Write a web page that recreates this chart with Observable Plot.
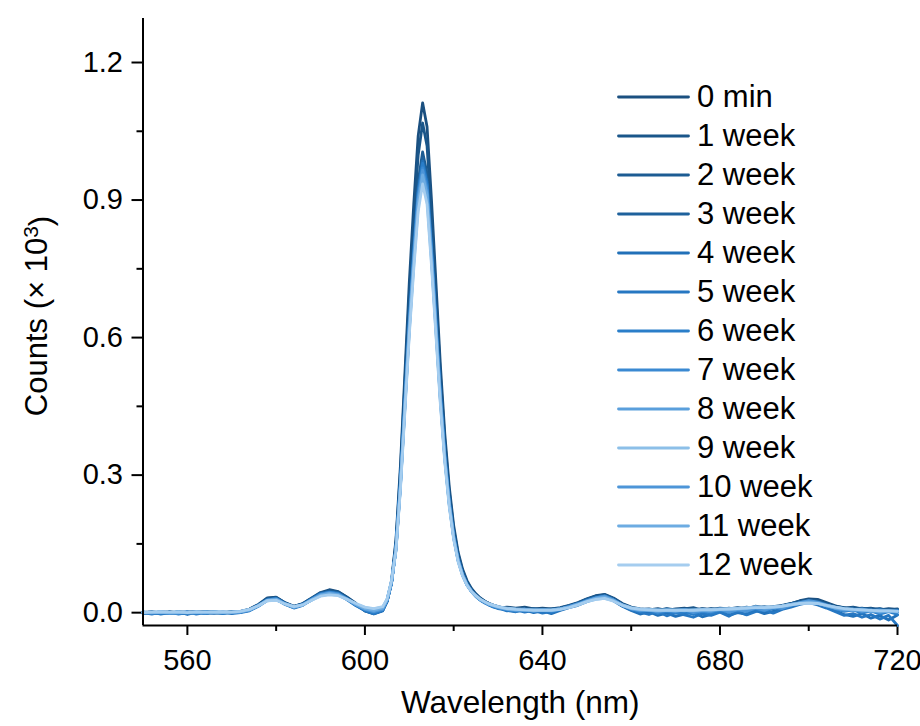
<!DOCTYPE html>
<html>
<head>
<meta charset="utf-8">
<script src="https://cdn.jsdelivr.net/npm/d3@7"></script>
<script src="https://cdn.jsdelivr.net/npm/@observablehq/plot@0.6"></script>
<style>
  html, body { margin: 0; padding: 0; background: #fff; }
  #wrap { position: relative; width: 920px; height: 726px; font-family: "Liberation Sans", Arial, sans-serif; }
  #legend { position: absolute; left: 0; top: 0; }
  .row { position: absolute; left: 617px; display: flex; align-items: center; height: 36px; }
  .row span { font-size: 31px; color: #000; margin-left: 7px; line-height: 36px; white-space: nowrap; }
</style>
</head>
<body>
<div id="wrap"><div id="chart"></div><div id="legend"></div></div>
<script>
// Wavelength grid (nm)
const wavelength = [
  550,552,554,556,558, 560,562,564,566,568, 570,572,574,576,578, 580,582,584,586,588, 590,592,594,596,598, 600,602,604,
  605,606,607,608,609, 610,611,612,613,614, 615,616,617,618,619, 620,621,622,623,624, 625,626,627,628,629, 630,631,
  632,634,636,638,640, 642,644,646,648,650, 652,654,656,658,660, 662,664,666,668,670, 672,674,676,678,680,
  682,684,686,688,690, 692,694,696,698,700, 702,704,706,708,710, 712,714,716,718,720
];

// Counts for each measurement (raw counts; axis shows ×10^3)
const s0min = [
  1,-1,2,0,-2, 1,0,3,0,-1, 2,3,8,18,32, 34,22,14,20,32, 44,50,46,34,20, 4,-2,5,
  25,70,160,320,520, 720,890,1040,1112,1060, 900,720,540,390,275, 190,132,95,70,53, 41,32,25,20,16, 13,11,
  12,10,12,8,10, 8,11,16,22,30, 37,40,32,20,12, 8,6,9,5,8, 10,6,9,7,10, 8,11,9,14,10, 12,15,20,26,30, 29,22,15,10,12, 8,10,6,9,7
];
const s1wk = [
  0,2,-1,1,0, -2,1,2,-1,0, 3,2,7,17,31, 33,21,13,19,31, 42,48,45,33,19, 5,-1,5,
  24,67,154,307,499, 691,854,998,1068,1018, 864,691,518,374,264, 182,127,91,67,51, 40,31,25,20,16, 13,10,
  9,8,7,9,6, 8,10,15,21,29, 36,39,31,19,11, 7,8,5,9,6, 8,11,5,8,6, 10,7,12,9,11, 13,16,20,25,28, 26,20,14,11,8, 10,7,9,5,8
];
const s2wk = [
  -1,0,1,-2,2, 0,-1,1,2,0, -1,3,6,16,30, 31,20,13,18,30, 41,47,44,32,18, 6,0,6,
  26,66,145,289,470, 651,805,940,1005,958, 814,651,488,353,249, 172,119,86,63,49, 38,30,24,19,15, 12,10,
  8,6,9,5,7, 6,9,14,20,28, 35,37,29,18,10, 6,4,7,3,6, 4,8,5,9,6, 8,10,7,12,9, 11,15,19,24,27, 25,19,13,9,11, 7,9,5,7,4
];
const s3wk = [
  1,-2,0,2,-1, 1,3,-2,0,1, 0,2,7,17,29, 32,21,14,19,31, 43,46,43,31,18, 8,1,7,
  25,65,143,285,464, 642,794,928,992,946, 803,642,482,348,245, 169,118,85,63,48, 38,29,23,19,15, 12,9,
  7,9,5,8,6, 7,10,15,21,29, 34,38,30,18,10, 5,7,4,8,5, 7,4,8,6,9, 7,10,8,11,13, 10,14,18,23,27, 24,18,12,10,7, 9,6,8,4,6
];
const s4wk = [
  -2,1,-3,0,2, -4,1,-2,3,-1, 0,1,5,15,28, 30,19,11,17,29, 40,44,41,29,16, 4,-3,4,
  26,66,142,284,461, 638,789,921,985,939, 797,638,478,346,244, 168,117,84,62,47, 36,28,22,17,13, 10,8,
  5,2,6,0,4, -2,5,11,16,24, 31,34,26,14,5, -3,2,-6,-1,-8, -3,1,-9,-4,2, -6,0,-4,5,-2, 3,8,14,20,24, 19,12,4,-4,-8, -2,-12,-6,-16,-5
];
const s5wk = [
  0,-3,1,-2,0, 2,-3,0,-1,2, -2,0,4,14,27, 29,18,10,16,28, 39,43,40,28,15, 5,-2,5,
  25,64,140,281,456, 631,781,912,975,930, 789,631,474,342,241, 167,116,83,61,46, 35,27,21,16,12, 9,7,
  4,6,1,5,-1, 3,6,12,18,25, 32,35,27,15,6, 1,-4,3,-7,0, -5,-10,-2,-6,1, -8,3,-5,2,6, -1,7,12,18,22, 17,10,2,-6,-2, -10,-4,-14,-6,-28
];
const s6wk = [
  1,0,-2,1,-3, 0,2,-1,0,-2, 1,2,6,16,28, 31,20,12,18,30, 41,45,42,30,17, 6,0,6,
  26,65,141,282,458, 634,784,916,980,934, 793,634,476,344,242, 167,116,84,62,47, 36,28,22,17,13, 10,8,
  6,3,7,2,5, 1,7,13,19,27, 33,36,28,16,8, 3,5,-2,4,-1, 2,-4,3,-1,5, 0,7,2,8,4, 9,12,17,22,25, 22,15,8,3,6, -1,4,-3,2,-4
];
const s7wk = [
  0,1,0,-1,1, 0,-1,1,0,1, 0,2,6,16,28, 30,19,12,17,29, 40,44,41,30,18, 8,3,8,
  27,66,140,279,453, 628,776,907,970,924, 785,628,471,340,240, 166,115,83,61,47, 36,28,23,18,15, 12,10,
  7,5,6,4,6, 5,8,13,19,26, 32,35,27,16,9, 6,4,6,3,5, 7,2,6,4,8, 5,9,7,11,8, 10,13,17,21,24, 22,16,10,7,5, 8,4,6,3,5
];
const s8wk = [
  1,0,2,0,1, -1,0,2,1,0, 1,2,6,15,27, 29,19,12,17,28, 38,42,39,29,18, 9,5,9,
  28,68,138,276,449, 621,768,898,960,915, 777,621,466,337,237, 164,114,82,61,47, 36,28,23,18,15, 12,10,
  8,6,5,6,5, 6,8,12,18,25, 31,33,27,16,9, 6,5,4,6,5, 4,6,5,5,6, 7,8,10,12,10, 11,14,18,21,22, 20,15,11,8,6, 5,3,2,3,2
];
const s9wk = [
  0,1,1,0,2, 0,1,0,2,1, 1,3,7,15,26, 28,19,13,17,27, 37,40,38,29,19, 11,8,12,
  29,70,136,272,442, 612,757,884,945,901, 765,612,459,332,234, 162,112,81,60,46, 37,29,23,19,16, 13,11,
  10,8,7,6,6, 6,8,12,17,24, 29,31,26,17,11, 8,7,6,6,6, 6,6,7,7,8, 9,10,11,12,12, 13,15,18,20,21, 20,16,12,9,7, 6,5,4,4,3
];
const s10wk = [
  0,-1,1,0,-1, 1,0,-1,1,0, 0,2,5,15,27, 29,19,12,17,28, 39,43,40,29,17, 7,2,7,
  28,67,139,278,451, 625,773,903,965,920, 781,625,469,339,239, 165,115,82,61,47, 36,28,22,18,14, 11,9,
  7,5,8,3,6, 4,7,13,19,26, 32,36,28,16,8, 4,6,1,5,2, 6,0,4,2,7, 1,6,3,10,5, 12,9,16,22,26, 23,17,9,5,8, 2,6,0,4,1
];
const s11wk = [
  1,0,1,-1,0, 1,0,1,0,0, 1,2,6,15,27, 29,19,12,17,28, 38,42,39,29,18, 9,5,10,
  29,68,137,275,447, 618,765,893,955,911, 773,618,464,335,236, 163,113,82,60,46, 36,28,23,18,15, 12,10,
  8,6,6,5,6, 5,8,12,18,25, 31,34,27,16,9, 6,5,4,5,4, 5,4,6,5,7, 6,8,9,13,10, 11,14,18,21,23, 21,15,10,7,6, 5,4,3,4,3
];
const s12wk = [
  0,1,2,1,1, 0,2,1,1,2, 1,3,7,15,26, 27,19,13,17,27, 36,39,37,29,20, 12,9,13,
  30,70,135,269,437, 606,748,875,935,891, 757,606,454,328,231, 160,111,80,60,46, 37,29,24,19,16, 13,11,
  9,7,6,5,5, 5,7,11,17,24, 29,31,25,16,10, 7,6,5,5,5, 5,5,6,6,7, 8,9,10,11,11, 12,14,17,20,21, 20,16,12,9,7, 6,5,4,4,3
];

const seriesNames = ["0 min","1 week","2 week","3 week","4 week","5 week","6 week","7 week","8 week","9 week","10 week","11 week","12 week"];
const seriesValues = [s0min,s1wk,s2wk,s3wk,s4wk,s5wk,s6wk,s7wk,s8wk,s9wk,s10wk,s11wk,s12wk];
const seriesColors = ["#1b5080","#1a568a","#1c5c93","#1e619c","#2170b8","#2677c2","#2a7ec9","#3a89d2","#5a9fdc","#8cbfe8","#4d95d8","#6dace2","#a5cdef"];

const xDomain = [550, 720];
const yDomain = [-0.028, 1.296];
const xMajor = [560, 600, 640, 680, 720];
const xMinor = [580, 620, 660, 700];
const yMajor = [0, 0.3, 0.6, 0.9, 1.2];
const yMinor = [0.15, 0.45, 0.75, 1.05];
const xTitle = "Wavelength (nm)";
const yTitleMain = "Counts (× 10";
const yTitleSup = "3";
const yTitleEnd = ")";

const table = [];
seriesNames.forEach((name, k) => {
  seriesValues[k].forEach((v, i) => table.push({wl: wavelength[i], v: v / 1000, s: name}));
});

const chart = Plot.plot({
  width: 920,
  height: 726,
  marginLeft: 142.5,
  marginRight: 23,
  marginTop: 18,
  marginBottom: 101,
  x: {domain: xDomain},
  y: {domain: yDomain},
  color: {domain: seriesNames, range: seriesColors},
  style: {fontFamily: "'Liberation Sans', Arial, sans-serif", color: "#000", background: "transparent", overflow: "visible"},
  marks: [
    Plot.axisX({ticks: xMajor, tickSize: 10, tickPadding: 14, fontSize: 29, strokeWidth: 2, label: null}),
    Plot.axisX({ticks: xMinor, tickSize: 6, tickFormat: () => "", strokeWidth: 2, label: null}),
    Plot.axisY({ticks: yMajor, tickSize: 11, tickPadding: 9, fontSize: 29, strokeWidth: 2, tickFormat: d3.format(".1f"), label: null}),
    Plot.axisY({ticks: yMinor, tickSize: 6, tickFormat: () => "", strokeWidth: 2, label: null}),
    Plot.line(table, {x: "wl", y: "v", z: "s", stroke: "s", strokeWidth: 2.8, strokeLinejoin: "round", strokeLinecap: "round"}),
    Plot.ruleX([xDomain[0]], {strokeWidth: 2, stroke: "#000"}),
    Plot.ruleY([yDomain[0]], {strokeWidth: 2, stroke: "#000"}),
    Plot.text([yTitleMain + yTitleSup + yTitleEnd], {text: d => d, frameAnchor: "left", textAnchor: "middle", dx: -106, dy: -6, rotate: -90, fontSize: 31, fill: "#000", className: "ytitle"}),
    Plot.text([xTitle], {text: d => d, frameAnchor: "bottom", dy: 87, fontSize: 31.5, fill: "#000"})
  ]
});
document.getElementById("chart").appendChild(chart);

// Replace y title text with a proper superscript
d3.select(chart).selectAll("text").each(function() {
  if (this.textContent === yTitleMain + yTitleSup + yTitleEnd) {
    const t = d3.select(this);
    t.text(null);
    t.append("tspan").text(yTitleMain);
    t.append("tspan").attr("dy", "-0.42em").attr("font-size", "21px").text(yTitleSup);
    t.append("tspan").attr("dy", "0.42em").text(yTitleEnd);
  }
});

// Legend
const legend = d3.select("#legend");
seriesNames.forEach((name, i) => {
  const row = legend.append("div").attr("class", "row").style("top", (97.3 + i * 38.97 - 18) + "px");
  const svg = row.append("svg").attr("width", 73).attr("height", 8);
  svg.append("line").attr("x1", 1.5).attr("x2", 71.5).attr("y1", 4).attr("y2", 4)
    .attr("stroke", seriesColors[i]).attr("stroke-width", 2.8).attr("stroke-linecap", "round");
  row.append("span").text(name);
});
</script>
</body>
</html>
